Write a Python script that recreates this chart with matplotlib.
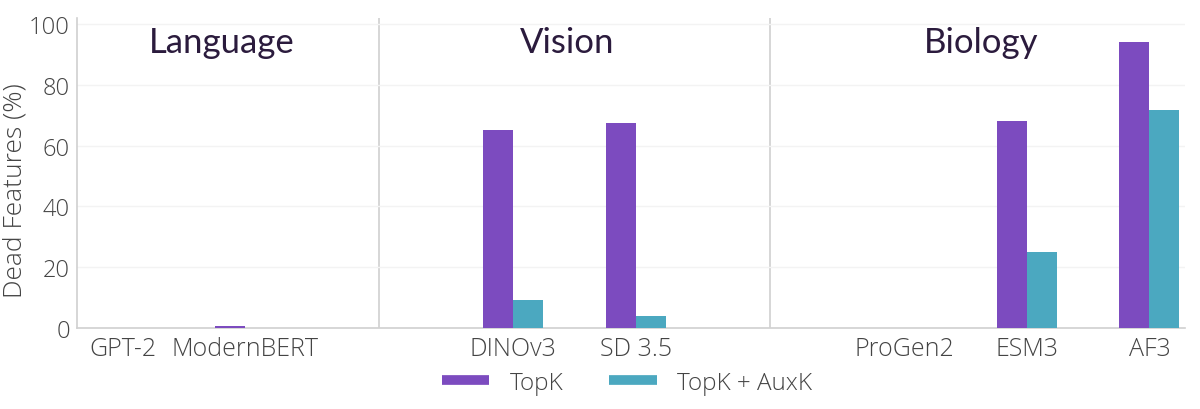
import matplotlib
matplotlib.use("Agg")
import matplotlib.pyplot as plt
from matplotlib.lines import Line2D
import numpy as np

# ---- data ----
groups = ["Language", "Vision", "Biology"]
group_models = [["GPT-2", "ModernBERT"], ["DINOv3", "SD 3.5"], ["ProGen2", "ESM3", "AF3"]]
topk = [0.0, 0.5, 65.2, 67.3, 0.0, 68.1, 94.0]
topk_auxk = [0.0, 0.0, 9.3, 4.0, 0.0, 24.9, 71.6]
series_names = ["TopK", "TopK + AuxK"]
yticks = [0, 20, 40, 60, 80, 100]

# ---- style ----
PURPLE = "#7c4bbf"
TEAL = "#4ba8c0"
TICK_COLOR = "#444444"
TITLE_COLOR = "#2b1b3d"
FONT = "Open Sans"

plt.rcParams["font.family"] = [FONT, "DejaVu Sans"]

fig = plt.figure(figsize=(12, 4.1), dpi=100)
ax = fig.add_axes([77 / 1200, (410 - 329) / 410, (1185 - 77) / 1200, (329 - 19) / 410])

# positions: one slot per model, extra gap between groups
GAP = 1.19
xs = []
seps = []
pos = 0.0
for gi, models in enumerate(group_models):
    if gi > 0:
        seps.append(pos - 1 + (1 + GAP) / 2)
        pos += GAP
    for m in models:
        xs.append(pos)
        pos += 1
xs = np.array(xs)
labels = [m for models in group_models for m in models]

w = 0.245
ax.bar(xs - w / 2, topk, width=w, color=PURPLE, linewidth=0, zorder=3)
ax.bar(xs + w / 2, topk_auxk, width=w, color=TEAL, linewidth=0, zorder=3)

ax.set_xlim(xs[0] - 0.371, xs[-1] + 0.29)
ax.set_ylim(0, 102)

for s in seps:
    ax.axvline(s, color="#d0d0d0", lw=1.2, zorder=1)

ax.set_yticks(yticks)
ax.set_yticklabels([str(t) for t in yticks])
ax.yaxis.grid(True, color="#f3f3f3", lw=1, zorder=0)
ax.set_xticks(xs)
ax.set_xticklabels(labels)
ax.tick_params(axis="both", length=0, labelcolor=TICK_COLOR)
ax.tick_params(axis="y", pad=5, labelsize=17)
ax.tick_params(axis="x", pad=6, labelsize=18)
for t in ax.get_xticklabels() + ax.get_yticklabels():
    t.set_fontweight("light")

for side in ["top", "right"]:
    ax.spines[side].set_visible(False)
ax.spines["left"].set_color("#d0d0d0")
ax.spines["bottom"].set_color("#d0d0d0")
ax.spines["left"].set_linewidth(1.2)
ax.spines["bottom"].set_linewidth(1.2)

ax.set_ylabel("Dead Features (%)", fontsize=19, color=TICK_COLOR, fontweight="light")
ax.yaxis.set_label_coords(-0.045, 0.445)

# group titles centred in each section
bounds = [ax.get_xlim()[0]] + seps + [ax.get_xlim()[1]]
title_shift = [-0.05, -0.06, 0.03]
for gi, g in enumerate(groups):
    cx = (bounds[gi] + bounds[gi + 1]) / 2 + title_shift[gi]
    ax.text(cx, 90.8, g, ha="center", va="baseline", fontsize=25,
            color=TITLE_COLOR, family=["Lato", "DejaVu Sans"], zorder=4)

handles = [Line2D([0], [0], color=PURPLE, lw=7, solid_capstyle="butt"),
           Line2D([0], [0], color=TEAL, lw=7, solid_capstyle="butt")]
leg = fig.legend(handles, series_names, loc="center", bbox_to_anchor=(627 / 1200, 1 - 384 / 410),
                 ncol=2, frameon=False, fontsize=17.5, handlelength=1.95, handletextpad=0.85,
                 columnspacing=1.9)
for t in leg.get_texts():
    t.set_color(TICK_COLOR)
    t.set_fontweight("light")

fig.savefig("out.png", dpi=100)
